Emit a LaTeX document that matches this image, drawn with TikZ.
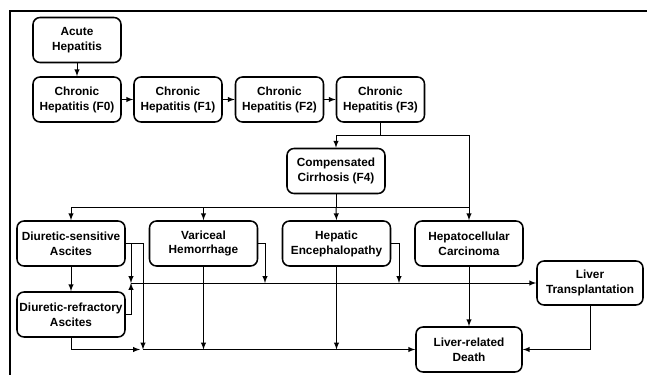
\documentclass[tikz,border=0pt]{standalone}
\usepackage{fontspec}
\setmainfont{Liberation Sans}
\usetikzlibrary{arrows}
\tikzset{>=latex}
\tikzset{stage/.style={draw, line width=1.1pt, rounded corners=5pt, align=center,
    font=\fontsize{8.4}{10.6}\selectfont\bfseries, minimum height=1.125cm, inner sep=1pt},
  link/.style={line width=0.7pt}}

\begin{document}
\begin{tikzpicture}[x=0.025cm, y=-0.025cm]
\useasboundingbox (0,0) rectangle (647,375);
\draw[line width=0.8pt] (10,375) -- (10,11) -- (647,11);

% fibrosis stages
\node[stage, minimum width=2.2cm] (acute) at (77,40) {Acute\\Hepatitis};
\node[stage, minimum width=2.2cm] (f0) at (77,99.5) {Chronic\\Hepatitis (F0)};
\node[stage, minimum width=2.2cm] (f1) at (178,99.5) {Chronic\\Hepatitis (F1)};
\node[stage, minimum width=2.2cm] (f2) at (279.5,99.5) {Chronic\\Hepatitis (F2)};
\node[stage, minimum width=2.2cm] (f3) at (380.5,99.5) {Chronic\\Hepatitis (F3)};
\node[stage, minimum width=2.45cm] (f4) at (336,171) {Compensated\\Cirrhosis (F4)};

% complications
\node[stage, minimum width=2.7cm] (ds) at (71,243.5) {Diuretic-sensitive\\Ascites};
\node[stage, minimum width=2.7cm] (vh) at (203.5,243.5) {Variceal\\Hemorrhage};
\node[stage, minimum width=2.7cm] (he) at (336.5,243.5) {Hepatic\\Encephalopathy};
\node[stage, minimum width=2.7cm] (hcc) at (469,243.5) {Hepatocellular\\Carcinoma};
\node[stage, minimum width=2.7cm] (dr) at (71,314.5) {Diuretic-refractory\\Ascites};
\node[stage, minimum width=2.65cm, minimum height=1.1cm] (lt) at (590,283) {Liver\\Transplantation};
\node[stage, minimum width=2.65cm] (death) at (469,349.5) {Liver-related\\Death};

\coordinate (f3split) at (380.5,135);
\coordinate (f4split) at (336,207);
\coordinate (tx) at (131,283);
\coordinate (vhtx) at (265,283);
\coordinate (hetx) at (399,283);
\coordinate (jn) at (143,349.5);
\coordinate (drend) at (140,349.5);

\draw[link,->] (acute) -- (f0);
\draw[link,->] (f0) -- (f1);
\draw[link,->] (f1) -- (f2);
\draw[link,->] (f2) -- (f3);
\draw[link] (f3.south) -- (f3split);
\draw[link,->] (f3split) -| (f4.north);
\draw[link,->] (f3split) -| (hcc.north);
\draw[link] (f4.south) -- (f4split);
\draw[link,->] (f4split) -| (ds.north);
\draw[link,->] (f4split) -| (vh.north);
\draw[link,->] (f4split) -- (he.north);
\draw[link] (f4split) -- (f4split -| hcc.north);

% to transplantation
\draw[link,->] (ds.east) -| (jn);
\draw[link,->] (ds.east -| tx) -- (tx);
\draw[link,->] (ds) -- (dr);
\draw[link,->] (dr.east) -| (tx);
\draw[link,->] (vh.east) -| (vhtx);
\draw[link,->] (he.east) -| (hetx);
\draw[link,->] (tx) -- (lt.west);

% to death
\draw[link,->] (dr.south) |- (drend);
\draw[link,->] (vh.south) -- (vh.south |- jn);
\draw[link,->] (he.south) -- (he.south |- jn);
\draw[link,->] (jn) -- (death.west);
\draw[link,->] (hcc) -- (death);
\draw[link,->] (lt.south) |- (death.east);
\end{tikzpicture}
\end{document}
